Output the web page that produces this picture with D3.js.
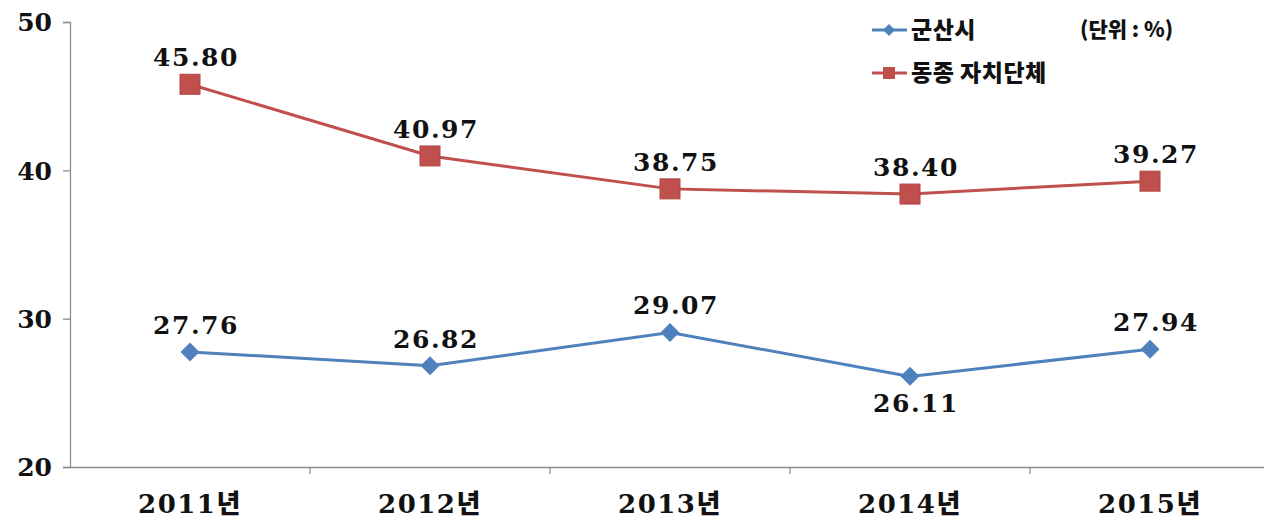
<!DOCTYPE html>
<html><head><meta charset="utf-8">
<script src="https://cdn.jsdelivr.net/npm/d3@7"></script>
<style>
body{margin:0;background:#fff;}
svg{display:block;}
</style></head>
<body>
<svg id="c" width="1264" height="522"></svg>
<script>
const categories = ["2011년","2012년","2013년","2014년","2015년"];
const seriesNames = ["군산시","동종 자치단체"];
const gunsan = [27.76, 26.82, 29.07, 26.11, 27.94];
const peers = [45.80, 40.97, 38.75, 38.40, 39.27];
const yTicks = [20, 30, 40, 50];
const unitLabel = "(단위 : %)";

const svg = d3.select("#c");
const numFont = "'DejaVu Serif','Liberation Serif','Noto Sans CJK KR',serif";
const korFont = "'Noto Sans CJK KR','Noto Sans',sans-serif";

const x = d3.scaleBand().domain(categories).range([70, 1270]).padding(0);
const y = d3.scaleLinear().domain([20, 50]).range([467, 22]);
const cx = d => x(d) + x.bandwidth()/2;

// y axis
const ya = svg.append("g").attr("transform","translate(70,0)")
  .call(d3.axisLeft(y).tickValues(yTicks).tickSize(7).tickPadding(11).tickFormat(d3.format("d")));
ya.select(".domain").attr("stroke","#8c8c8c").attr("stroke-width",1.3);
ya.selectAll(".tick line").attr("stroke","#8c8c8c").attr("stroke-width",1.3);
ya.selectAll(".tick text").attr("font-family",numFont).attr("font-weight","bold")
  .attr("font-size",25).attr("fill","#111").attr("dy","0.35em");

// x axis
const xa = svg.append("g").attr("transform","translate(0,467)")
  .call(d3.axisBottom(x).tickSize(0).tickPadding(40));
xa.select(".domain").attr("stroke","#8c8c8c").attr("stroke-width",1.3);
xa.selectAll(".tick text").remove();
const bounds = categories.slice(1).map(c => x(c));
xa.selectAll("line.b").data(bounds).enter().append("line")
  .attr("x1",d=>d).attr("x2",d=>d).attr("y1",0).attr("y2",7)
  .attr("stroke","#8c8c8c").attr("stroke-width",1.3);
xa.selectAll("text.cat").data(categories).enter().append("text")
  .attr("x",d=>cx(d)).attr("y",46).attr("text-anchor","middle")
  .attr("font-family",numFont).attr("font-weight","bold").attr("font-size",26)
  .attr("letter-spacing","1.5").attr("fill","#111").each(function(d){
    const m = d.match(/^(\d+)(.*)$/);
    const t = d3.select(this);
    t.append("tspan").text(m[1]);
    t.append("tspan").attr("font-family",korFont).attr("font-weight","900").text(m[2]);
  });

const line = d3.line().x((d,i)=>cx(categories[i])).y(d=>y(d));

// red series
svg.append("path").datum(peers).attr("d",line).attr("fill","none")
  .attr("stroke","#C0504D").attr("stroke-width",3);
svg.selectAll("rect.pm").data(peers).enter().append("rect")
  .attr("x",(d,i)=>cx(categories[i])-10).attr("y",d=>y(d)-10)
  .attr("width",20).attr("height",20).attr("fill","#C0504D").attr("stroke","#B24440").attr("stroke-width",1);

// blue series
svg.append("path").datum(gunsan).attr("d",line).attr("fill","none")
  .attr("stroke","#4F81BD").attr("stroke-width",3);
const diamond = s => `M0,${-s}L${s},0L0,${s}L${-s},0Z`;
svg.selectAll("path.gm").data(gunsan).enter().append("path")
  .attr("d",diamond(9.5)).attr("transform",(d,i)=>`translate(${cx(categories[i])},${y(d)})`)
  .attr("fill","#4F81BD");

// labels
const fmt = d3.format(".2f");
svg.selectAll("text.pl").data(peers).enter().append("text")
  .attr("x",(d,i)=>cx(categories[i])+6).attr("y",d=>y(d)-18).attr("text-anchor","middle")
  .attr("font-family",numFont).attr("font-weight","bold").attr("font-size",25)
  .attr("letter-spacing","1.5").attr("fill","#111").text(d=>fmt(d));
svg.selectAll("text.gl").data(gunsan).enter().append("text")
  .attr("x",(d,i)=>cx(categories[i])+6)
  .attr("y",(d,i)=> i===3 ? y(d)+36 : y(d)-18).attr("text-anchor","middle")
  .attr("font-family",numFont).attr("font-weight","bold").attr("font-size",25)
  .attr("letter-spacing","1.5").attr("fill","#111").text(d=>fmt(d));

// legend
const lg = svg.append("g");
const rows = [{name:seriesNames[0], color:"#4F81BD", y:30, shape:"d"},
              {name:seriesNames[1], color:"#C0504D", y:73, shape:"s"}];
rows.forEach(r=>{
  lg.append("line").attr("x1",872).attr("x2",907).attr("y1",r.y).attr("y2",r.y)
    .attr("stroke",r.color).attr("stroke-width",3);
  if(r.shape==="d") lg.append("path").attr("d",diamond(6)).attr("transform",`translate(889,${r.y})`).attr("fill",r.color);
  else lg.append("rect").attr("x",883).attr("y",r.y-6).attr("width",12).attr("height",12).attr("fill",r.color);
  lg.append("text").attr("x",911).attr("y",r.y).attr("dy","0.35em")
    .attr("font-family",korFont).attr("font-weight","900").attr("font-size",23)
    .attr("letter-spacing","0.5").attr("fill","#111").text(r.name);
});
lg.append("text").attr("x",1080).attr("y",30).attr("dy","0.35em")
  .attr("font-family",korFont).attr("font-weight","900").attr("font-size",21)
  .attr("fill","#111").text(unitLabel);
</script>
</body></html>
